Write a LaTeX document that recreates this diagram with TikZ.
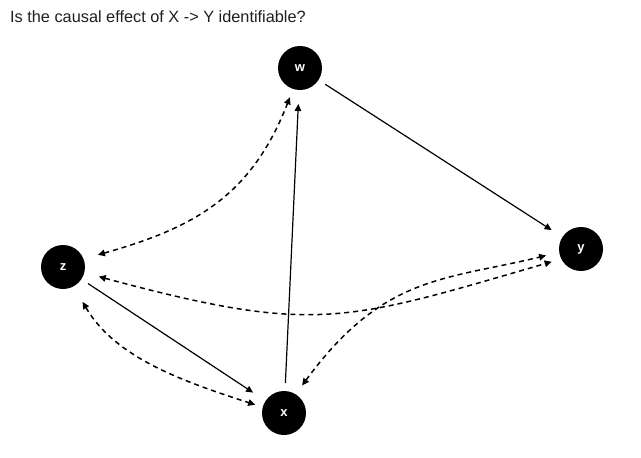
\documentclass[tikz,border=0pt]{standalone}
\usepackage{fontspec}
\setmainfont{Liberation Sans}
\usetikzlibrary{arrows.meta}
\begin{document}
\begin{tikzpicture}[x=1pt,y=-1pt,
  var/.style={circle,fill=black,minimum size=44pt,inner sep=0pt,outer sep=8pt,text=white,font=\fontsize{13}{13}\selectfont\bfseries},
  dir/.style={line width=1.2pt,-{Triangle[length=7pt,width=6.5pt]}},
  bidir/.style={line width=1.5pt,dash pattern=on 5pt off 4pt,{Triangle[length=7pt,width=6.5pt]}-{Triangle[length=7pt,width=6.5pt]}}]
\useasboundingbox (0,0) rectangle (641,458);
\node[anchor=base west,inner sep=0pt,font=\fontsize{16.3}{18}\selectfont,text=black!88] (title) at (10,22) {Is the causal effect of X -> Y identifiable?};
\node[var] (w) at (300,68) {w};
\node[var] (z) at (63,267) {z};
\node[var] (x) at (284,413) {x};
\node[var] (y) at (581,249) {y};
% directed edges
\draw[dir,shorten >=5pt] (w) -- (y);
\draw[dir,shorten >=7pt] (z) -- (x);
\draw[dir,shorten >=6pt] (x) -- (w);
% bidirected edges
\draw[bidir,shorten <=7pt,shorten >=1pt] (z.20) .. controls +(103,-29) and +(-39,100) .. (w.-109);
\draw[bidir,shorten <=7pt,shorten >=2pt] (z.-15.5) .. controls +(223,60) and +(-210,61) .. (y.204);
\draw[bidir,shorten <=3pt,shorten >=5.5pt] (x.57) .. controls +(83,-113) and +(-107,26) .. (y.190);
\draw[bidir,shorten <=10pt] (z.-61.5) .. controls +(38,65) and +(-71,-23) .. (x.164.6);
\end{tikzpicture}
\end{document}
